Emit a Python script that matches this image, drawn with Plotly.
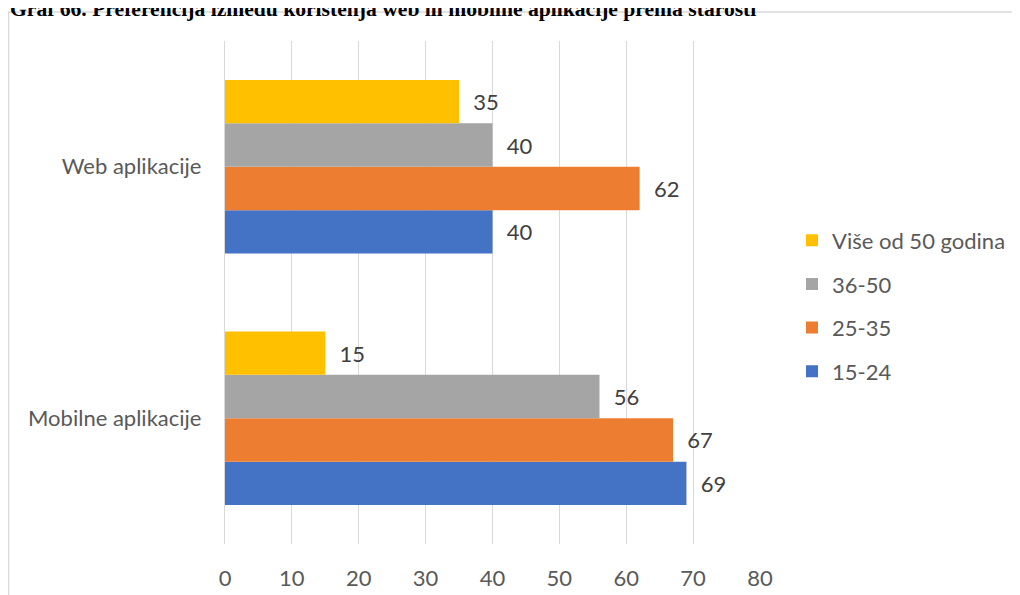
import plotly.graph_objects as go

categories = ["Mobilne aplikacije", "Web aplikacije"]
series_names = ["15-24", "25-35", "36-50", "Više od 50 godina"]
values_15_24 = [69, 40]
values_25_35 = [67, 62]
values_36_50 = [56, 40]
values_50_plus = [15, 35]
colors = ["#4472C4", "#ED7D31", "#A5A5A5", "#FFC000"]
legend_ranks = [4, 3, 2, 1]
x_ticks = [0, 10, 20, 30, 40, 50, 60, 70, 80]
title_text = "Graf 66. Preferencija između korištenja web ili mobilne aplikacije prema starosti"

all_values = [values_15_24, values_25_35, values_36_50, values_50_plus]

FONT = "Lato"
FS = 22

fig = go.Figure()
for name, vals, col, rank in zip(series_names, all_values, colors, legend_ranks):
    fig.add_trace(go.Bar(
        y=categories, x=vals, name=name, orientation="h",
        marker=dict(color=col, line=dict(width=0)),
        texttemplate="  %{x}", textposition="outside",
        textfont=dict(size=FS, color="#404040", family=FONT),
        legendgroup=name, legendrank=rank, cliponaxis=False,
    ))

PL, PT, PB, PR = 217, 33, 536, 752
ph = PB - PT
pw = PR - PL

fig.update_layout(
    width=1020, height=595,
    paper_bgcolor="white", plot_bgcolor="white",
    barmode="group", bargap=0.31, bargroupgap=0,
    margin=dict(l=PL, r=1020 - PR, t=PT, b=595 - PB),
    font=dict(family=FONT, color="#595959", size=FS),
    xaxis=dict(range=[0, 80], tickvals=x_ticks, showgrid=True, gridcolor="#D9D9D9",
               gridwidth=1.3, zeroline=False, showline=False, ticks="",
               tickfont=dict(size=FS, color="#595959"), ticklabelstandoff=19),
    yaxis=dict(categoryorder="array", categoryarray=categories, showgrid=False,
               showline=True, linecolor="#D9D9D9", linewidth=1.3, ticks="",
               tickfont=dict(size=FS, color="#595959"), ticklabelstandoff=18),
    legend=dict(x=(784 - PL) / pw, y=0.645, xanchor="left", yanchor="top",
                traceorder="grouped", tracegroupgap=12,
                font=dict(size=FS, color="#595959"), itemwidth=30,
                bgcolor="rgba(0,0,0,0)"),
    shapes=[dict(type="rect", xref="paper", yref="paper",
                 x0=(0.5 - PL) / pw, x1=(1030 - PL) / pw,
                 y0=(PB - 620) / ph, y1=(PB - 4) / ph,
                 line=dict(color="#D9D9D9", width=1.5), fillcolor="rgba(0,0,0,0)",
                 layer="below")],
    annotations=[dict(text="<b>" + title_text + "</b>", xref="paper", yref="paper",
                      x=(0 - PL) / pw, y=(PB - 1) / ph, xanchor="left", yanchor="middle",
                      showarrow=False,
                      font=dict(family="Liberation Serif", size=21.6, color="black"))],
)

fig.write_html("out.html")
